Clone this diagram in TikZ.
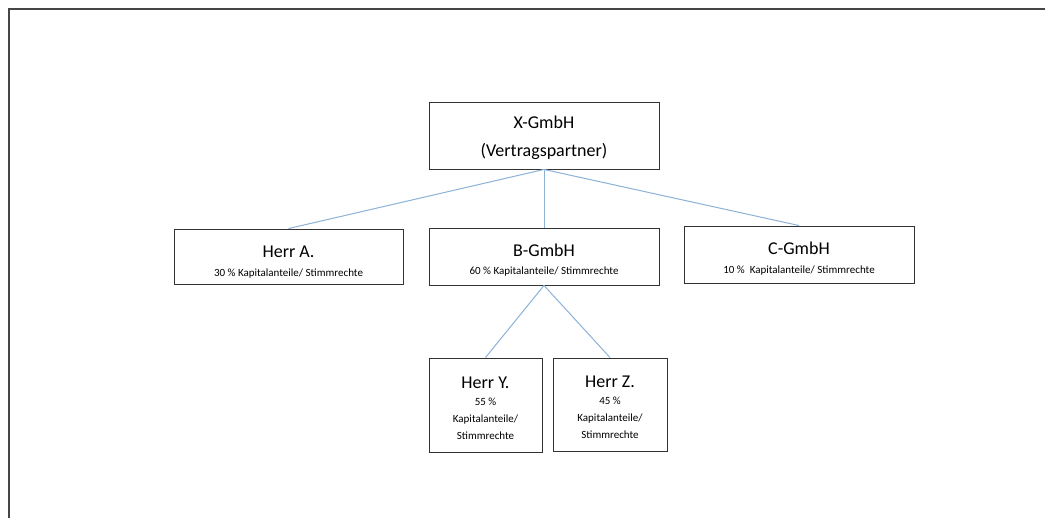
\documentclass[tikz,border=0pt]{standalone}
\usepackage{fontspec}
\setmainfont{Carlito}
\definecolor{linkblue}{RGB}{140,178,216}
\definecolor{boxline}{RGB}{50,50,50}
\definecolor{frameline}{RGB}{70,70,70}
\newcommand{\bigtitle}[2]{\rule{0pt}{#1}{\fontsize{18}{20}\selectfont #2}}
\begin{document}
\begin{tikzpicture}[x=1pt,y=-1pt,
  orgbox/.style={draw=boxline, line width=0.9pt, rectangle, align=center, inner sep=0pt, fill=white},
  link/.style={draw=linkblue, line width=1pt}]
\useasboundingbox (0,0) rectangle (1045,518);
\fill[white] (0,0) rectangle (1045,518);
\draw[frameline, line width=1.6pt] (8.8,518) -- (8.8,8.8) -- (1045,8.8);

\node[orgbox, minimum width=230, minimum height=67, font=\fontsize{18}{28}\selectfont] (x) at (544,135.5)
  {\rule{0pt}{18pt}X-GmbH\\(Vertragspartner)};

\node[orgbox, minimum width=229, minimum height=55, font=\fontsize{11}{19}\selectfont] (a) at (288.5,256.5)
  {\bigtitle{22pt}{Herr A.}\\30 \% Kapitalanteile/ Stimmrechte};
\node[orgbox, minimum width=230, minimum height=57, font=\fontsize{11}{18}\selectfont] (b) at (544,256.5)
  {\bigtitle{20pt}{B-GmbH}\\60 \% Kapitalanteile/ Stimmrechte};
\node[orgbox, minimum width=230, minimum height=57, font=\fontsize{11}{19}\selectfont] (c) at (799,254.5)
  {\bigtitle{20pt}{C-GmbH}\\10 \%\ \ Kapitalanteile/ Stimmrechte};

\node[orgbox, minimum width=113, minimum height=94, font=\fontsize{11}{17}\selectfont] (y) at (485.5,405)
  {\bigtitle{18pt}{Herr Y.}\\55 \%\\Kapitalanteile/\\Stimmrechte};
\node[orgbox, minimum width=114, minimum height=93, font=\fontsize{11}{17}\selectfont] (z) at (610,404.5)
  {\bigtitle{18pt}{Herr Z.}\\45 \%\\Kapitalanteile/\\Stimmrechte};

\draw[link] (x.south) -- (a.north);
\draw[link] (x.south) -- (b.north);
\draw[link] (x.south) -- (c.north);
\draw[link] (b.south) -- (y.north);
\draw[link] (b.south) -- (z.north);
\end{tikzpicture}
\end{document}
